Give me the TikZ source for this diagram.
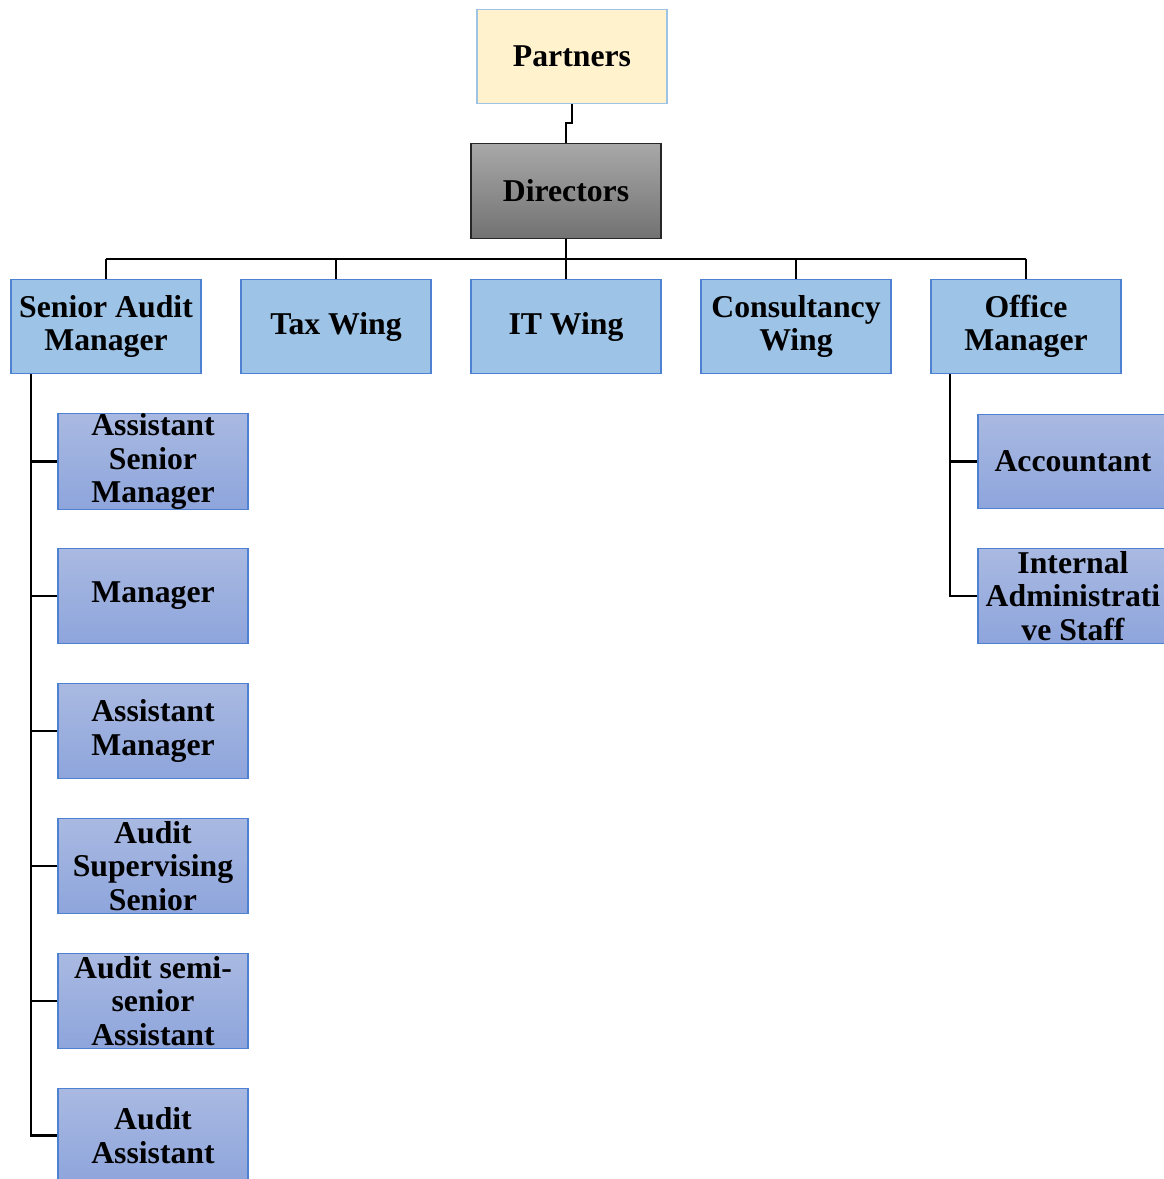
\documentclass[tikz,border=0pt]{standalone}
\usepackage{fontspec}
\setmainfont{Liberation Serif}
\begin{document}
\begin{tikzpicture}[x=0.75pt,y=-0.75pt,
  box/.style={minimum width=142.5pt,minimum height=71pt,inner sep=0pt,align=center,
    font=\fontsize{23.8}{25}\selectfont\bfseries,line width=0.8pt},
  topbox/.style={box,fill=yellowfill,draw=blueline},
  dirbox/.style={box,top color=dirtop,bottom color=dirbot,draw=black!85},
  lvlbox/.style={box,fill=midblue,draw=blueedge},
  subbox/.style={box,top color=subtop,bottom color=subbot,draw=blueedge},
  conn/.style={line width=2.1pt,black}]
\definecolor{yellowfill}{HTML}{FFF2CC}
\definecolor{blueline}{HTML}{9DC3E6}
\definecolor{midblue}{HTML}{9DC3E6}
\definecolor{blueedge}{HTML}{4F81D2}
\definecolor{subtop}{HTML}{A9B9E1}
\definecolor{subbot}{HTML}{8EA5DC}
\definecolor{dirtop}{HTML}{A8A8A8}
\definecolor{dirbot}{HTML}{727272}
\useasboundingbox (0,0) rectangle (1164,1179);
\clip (0,0) rectangle (1164,1179);
% top
\node[topbox] (partners) at (572,56.5) {Partners};
\node[dirbox] (directors) at (566,191) {Directors};
% level 2
\node[lvlbox] (sam) at (106,326.5) {Senior Audit\\Manager};
\node[lvlbox] (tax) at (336,326.5) {Tax Wing};
\node[lvlbox] (it) at (566,326.5) {IT Wing};
\node[lvlbox] (cons) at (796,326.5) {Consultancy\\Wing};
\node[lvlbox] (office) at (1026,326.5) {Office\\Manager};
% left children
\node[subbox] (asm) at (153,461.5) {Assistant\\Senior\\Manager};
\node[subbox] (mgr) at (153,596) {Manager};
\node[subbox] (am) at (153,731) {Assistant\\Manager};
\node[subbox] (ass) at (153,866) {Audit\\Supervising\\Senior};
\node[subbox] (asa) at (153,1001) {Audit semi-\\senior\\Assistant};
\node[subbox] (aa) at (153,1135.5) {Audit\\Assistant};
% right children
\node[subbox] (acc) at (1073,461.5) {Accountant};
\node[subbox] (ias) at (1073,596) {Internal\\Administrati\\ve Staff};
% connectors
\coordinate (j1) at (572,123);
\coordinate (j2) at (566,123);
\draw[conn] (partners.south) -- (j1) -- (j2) -- (directors.north);
\coordinate (bus) at (566,259);
\draw[conn] (directors.south) -- (bus);
\foreach \n in {sam,tax,it,cons,office}{
  \draw[conn] (\n.north) -- (\n.north |- bus);
}
\draw[conn] (sam.north |- bus) -- (office.north |- bus);
\coordinate (ls) at (31,374);
\draw[conn] (ls) -- (31,1135.5) -- (aa.west);
\foreach \n in {asm,mgr,am,ass,asa}{
  \draw[conn] (31,0 |- \n.west) -- (\n.west);
}
\coordinate (rs) at (950,374);
\draw[conn] (rs) -- (950,596) -- (ias.west);
\draw[conn] (950,0 |- acc.west) -- (acc.west);
\end{tikzpicture}
\end{document}
